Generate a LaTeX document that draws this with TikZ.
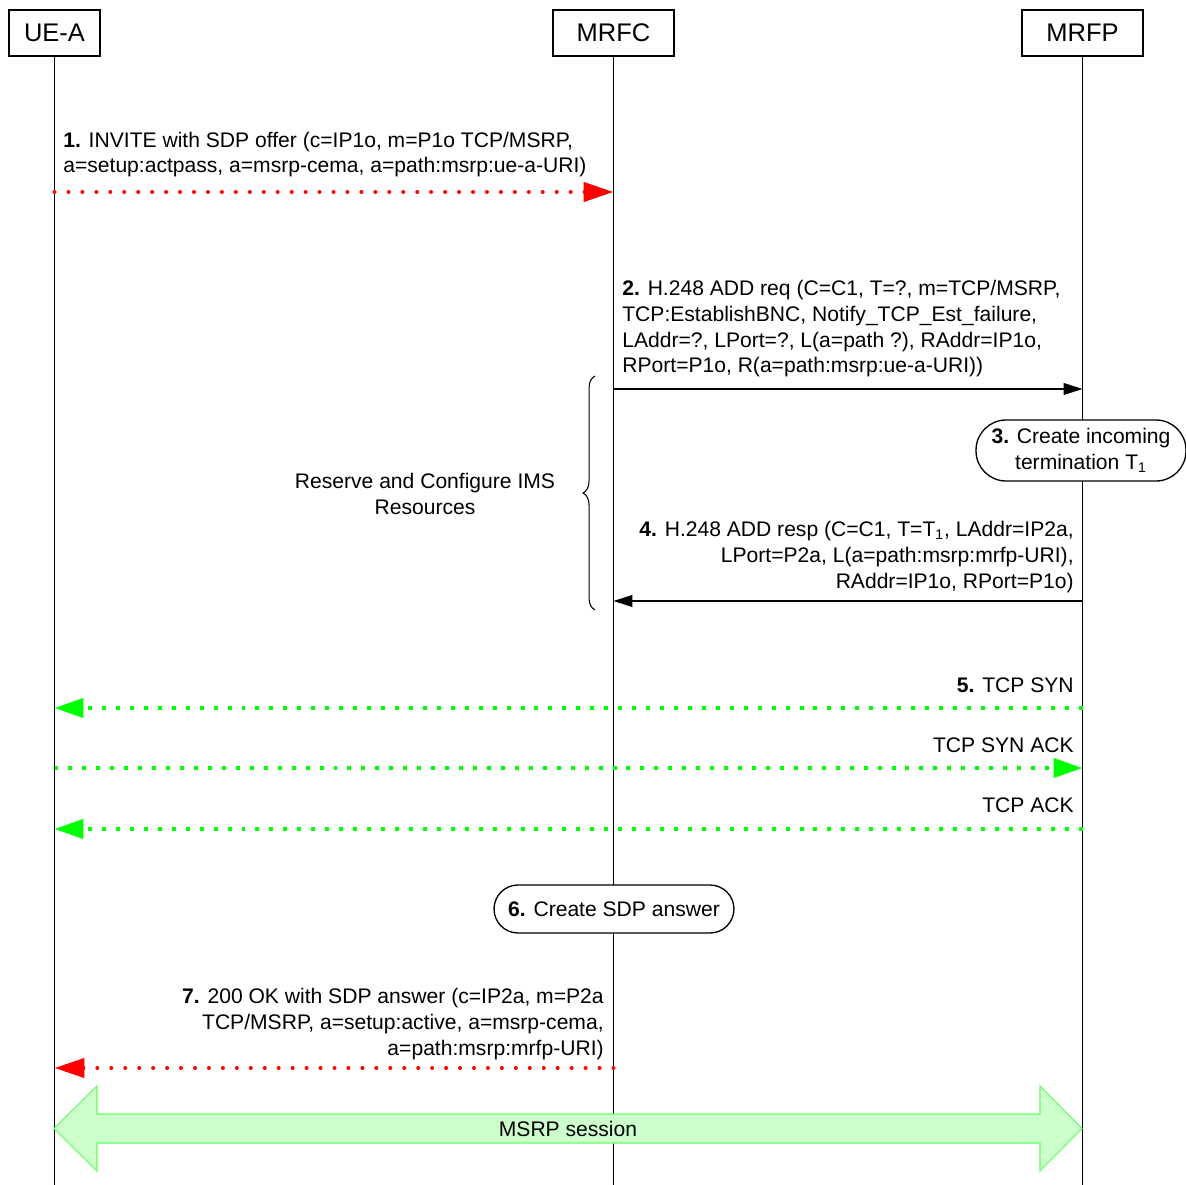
\documentclass[tikz,border=0pt]{standalone}
\usepackage{fontspec}
\setmainfont{Liberation Sans}
\usetikzlibrary{arrows.meta,positioning,decorations.pathreplacing}
\definecolor{sipred}{HTML}{FF0000}
\definecolor{tcpgreen}{HTML}{00FF00}
\definecolor{sessFill}{HTML}{CCFFCC}
\definecolor{sessEdge}{HTML}{66FF66}
\tikzset{
  entity/.style={draw, line width=0.75pt, minimum height=0.92cm, inner sep=0pt,
    font=\fontsize{14.5}{17}\selectfont},
  lifeline/.style={line width=0.75pt},
  msgtext/.style={inner sep=0pt, font=\fontsize{12}{14.74}\selectfont},
  action/.style={draw, line width=0.75pt, fill=white, align=center, inner sep=0pt,
    font=\fontsize{12}{14.74}\selectfont},
  sipmsg/.style={color=sipred, line width=2.27pt, line cap=round,
    dash pattern=on 0pt off 7.94pt, -{Triangle[length=17pt,width=10.8pt]}},
  tcpmsg/.style={color=tcpgreen, line width=2.27pt,
    dash pattern=on 2.27pt off 5.67pt, -{Triangle[length=16.4pt,width=10.8pt]}},
  h248msg/.style={line width=0.6pt, -{Triangle[length=10.8pt,width=6.8pt]}}
}
\begin{document}
\begin{tikzpicture}[x=0.02cm, y=-0.02cm]
  \useasboundingbox (0,0) rectangle (1186,1185);
  \node[entity, minimum width=1.82cm] (uea) at (54.5,33) {UE-A};
  \node[entity, minimum width=2.42cm] (mrfc) at (613.5,33) {MRFC};
  \node[entity, minimum width=2.42cm] (mrfp) at (1082.5,33) {MRFP};
  \coordinate (bottom) at (0,1185);
  \foreach \e in {uea,mrfc,mrfp}
    \draw[lifeline] (\e.south) -- (\e.south |- bottom);

  \coordinate (y1) at (0,192);
  \coordinate (y2) at (0,389);
  \coordinate (y4) at (0,601);
  \coordinate (y5) at (0,708);
  \coordinate (y5b) at (0,768);
  \coordinate (y5c) at (0,829);
  \coordinate (y7) at (0,1068);

  \node[msgtext, align=left, anchor=base west] (t1) at (63,173)
    {\textbf{1.} INVITE with SDP offer (c=IP1o, m=P1o TCP/MSRP,\\
     a=setup:actpass, a=msrp-cema, a=path:msrp:ue-a-URI)};
  \draw[sipmsg] (uea |- y1) -- (mrfc |- y1);

  \node[msgtext, align=left, anchor=base west] (t2) at (622,373)
    {\textbf{2.} H.248 ADD req (C=C1, T=?, m=TCP/MSRP,\\
     TCP:EstablishBNC, Notify\_TCP\_Est\_failure,\\
     LAddr=?, LPort=?, L(a=path ?), RAddr=IP1o,\\
     RPort=P1o, R(a=path:msrp:ue-a-URI))};
  \draw[h248msg] (mrfc |- y2) -- (mrfp |- y2);

  \node[action, minimum width=4.2cm, minimum height=1.22cm, rounded corners=0.6cm] (act3) at (1081,450.5)
    {\textbf{3.} Create incoming\\termination T\textsubscript{1}};

  \node[msgtext, align=right, anchor=base east] (t4) at (1074,588)
    {\textbf{4.} H.248 ADD resp (C=C1, T=T\textsubscript{1}, LAddr=IP2a,\\
     LPort=P2a, L(a=path:msrp:mrfp-URI),\\
     RAddr=IP1o, RPort=P1o)};
  \draw[h248msg] (mrfp |- y4) -- (mrfc |- y4);

  \draw[line width=0.6pt, decorate, decoration={brace, amplitude=6.8pt}] (595,610) -- (595,376);
  \node[msgtext, align=center, anchor=base] (resv) at (425,514)
    {Reserve and Configure IMS\\Resources};

  \node[msgtext, anchor=base east] (t5) at (1074,692) {\textbf{5.} TCP SYN};
  \draw[tcpmsg] (mrfp |- y5) -- (uea |- y5);
  \node[msgtext, anchor=base east] (t5b) at (1074,752) {TCP SYN ACK};
  \draw[tcpmsg] (uea |- y5b) -- (mrfp |- y5b);
  \node[msgtext, anchor=base east] (t5c) at (1074,812) {TCP ACK};
  \draw[tcpmsg] (mrfp |- y5c) -- (uea |- y5c);

  \node[action, minimum width=4.8cm, minimum height=0.96cm, rounded corners=0.48cm] (act6) at (614,909)
    {\textbf{6.} Create SDP answer};

  \node[msgtext, align=right, anchor=base east] (t7) at (604,1055)
    {\textbf{7.} 200 OK with SDP answer (c=IP2a, m=P2a\\
     TCP/MSRP, a=setup:active, a=msrp-cema,\\
     a=path:msrp:mrfp-URI)};
  \draw[sipmsg] (mrfc |- y7) -- (uea |- y7);

  \draw[draw=sessEdge, fill=sessFill, line width=0.6pt]
    (54,1128.5) -- (97,1086) -- (97,1114) -- (1040,1114) -- (1040,1086) -- (1082,1128.5)
    -- (1040,1171) -- (1040,1143) -- (97,1143) -- (97,1171) -- cycle;
  \node[msgtext] (sess) at (568,1128.5) {MSRP session};
\end{tikzpicture}
\end{document}
